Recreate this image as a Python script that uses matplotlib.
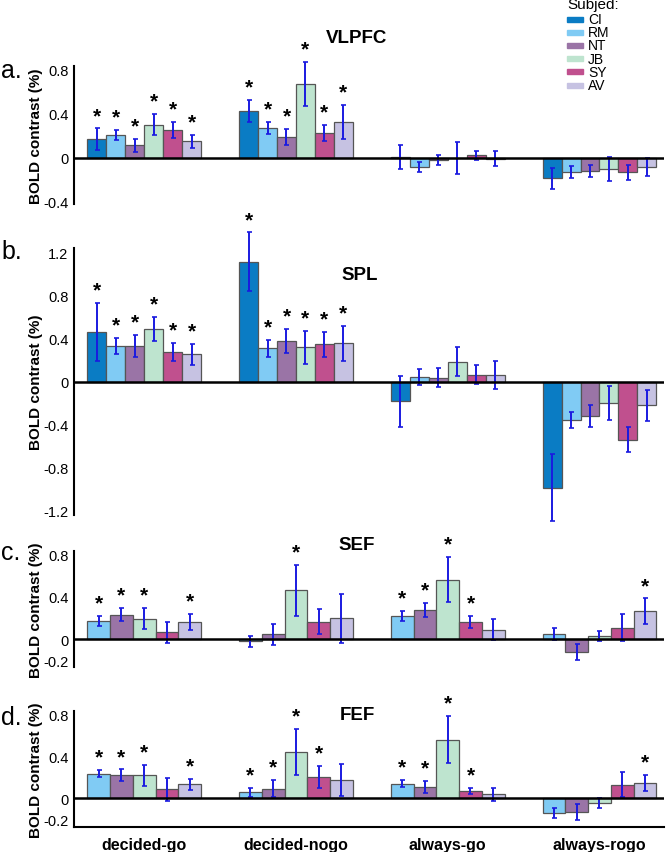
import numpy as np
import matplotlib
matplotlib.use('Agg')
import matplotlib.pyplot as plt
from matplotlib.patches import Rectangle

plt.rcParams['font.family'] = ['Liberation Sans', 'DejaVu Sans']
plt.rcParams['axes.unicode_minus'] = False

conditions = ['decided-go', 'decided-nogo', 'always-go', 'always-rogo']
subjects = ['CI', 'RM', 'NT', 'JB', 'SY', 'AV']
colors = ['#0a7cc4', '#80cbf4', '#9a74a6', '#bee4cf', '#c0508e', '#c6c2e2']

# rows = condition, columns = subject
vlpfc_mean = [[0.165, 0.205, 0.11, 0.30, 0.25, 0.147],
              [0.423, 0.27, 0.187, 0.67, 0.22, 0.32],
              [0.005, -0.085, -0.023, 0.0, 0.02, -0.01],
              [-0.187, -0.134, -0.12, -0.102, -0.134, -0.082]]
vlpfc_err = [[0.10, 0.047, 0.057, 0.095, 0.07, 0.06],
             [0.10, 0.055, 0.07, 0.20, 0.073, 0.155],
             [0.105, 0.047, 0.047, 0.145, 0.038, 0.07],
             [0.095, 0.054, 0.054, 0.11, 0.07, 0.08]]
vlpfc_sig = [[1, 1, 1, 1, 1, 1], [1, 1, 1, 1, 1, 1],
             [0, 0, 0, 0, 0, 0], [0, 0, 0, 0, 0, 0]]

spl_mean = [[0.46, 0.332, 0.332, 0.486, 0.277, 0.252],
            [1.114, 0.308, 0.375, 0.317, 0.345, 0.354],
            [-0.185, 0.043, 0.037, 0.185, 0.065, 0.058],
            [-0.988, -0.354, -0.32, -0.2, -0.542, -0.222]]
spl_err = [[0.27, 0.075, 0.10, 0.11, 0.083, 0.10],
           [0.27, 0.08, 0.11, 0.155, 0.115, 0.163],
           [0.24, 0.074, 0.092, 0.135, 0.09, 0.132],
           [0.31, 0.075, 0.10, 0.16, 0.115, 0.143]]
spl_sig = [[1, 1, 1, 1, 1, 1], [1, 1, 1, 1, 1, 1],
           [0, 0, 0, 0, 0, 0], [0, 0, 0, 0, 0, 0]]

# SEF / FEF: no CI data (RM, NT, JB, SY, AV)
sef_mean = [[0.172, 0.228, 0.19, 0.062, 0.163],
            [-0.022, 0.043, 0.458, 0.163, 0.194],
            [0.218, 0.274, 0.56, 0.163, 0.086],
            [0.049, -0.125, 0.03, 0.108, 0.26]]
sef_err = [[0.046, 0.062, 0.10, 0.10, 0.077],
           [0.05, 0.10, 0.24, 0.117, 0.228],
           [0.05, 0.063, 0.215, 0.057, 0.10],
           [0.057, 0.075, 0.045, 0.13, 0.123]]
sef_sig = [[1, 1, 1, 0, 1], [0, 0, 1, 0, 0], [1, 1, 1, 1, 0], [0, 0, 0, 0, 1]]

fef_mean = [[0.234, 0.218, 0.218, 0.084, 0.13],
            [0.053, 0.09, 0.44, 0.20, 0.171],
            [0.137, 0.109, 0.558, 0.069, 0.037],
            [-0.143, -0.134, -0.044, 0.128, 0.143]]
fef_err = [[0.036, 0.055, 0.10, 0.11, 0.053],
           [0.04, 0.08, 0.223, 0.103, 0.15],
           [0.034, 0.058, 0.223, 0.03, 0.062],
           [0.047, 0.078, 0.048, 0.118, 0.078]]
fef_sig = [[1, 1, 1, 0, 1], [1, 1, 1, 1, 0], [1, 1, 1, 1, 0], [0, 0, 0, 0, 1]]

W, H = 667, 853
fig = plt.figure(figsize=(W / 100, H / 100), dpi=100)


def px_axes(top, bottom):
    # axes box from pixel rows
    return fig.add_axes([74 / W, 1 - bottom / H, 590 / W, (bottom - top) / H])


def draw_panel(ax, means, errs, sig, subj_idx, ylim, yticks):
    means = np.array(means)
    errs = np.array(errs)
    sig = np.array(sig)
    n = len(subj_idx)
    w = 6.0 / n
    centers = np.arange(len(conditions)) * 8
    for k, s in enumerate(subj_idx):
        xs = centers + (k - (n - 1) / 2) * w
        bc = ax.bar(xs, means[:, k], width=w, color=colors[s], edgecolor='#555555',
                    linewidth=0.9, yerr=errs[:, k], zorder=2,
                    error_kw=dict(ecolor='#1a1ae0', elinewidth=1.4, capsize=1.8,
                                  capthick=1.2, zorder=3))
        # error bars run past the axis ends in the original
        for art in bc.errorbar.get_children():
            art.set_clip_on(False)
        for g in range(len(conditions)):
            if sig[g, k]:
                top = means[g, k] + errs[g, k]
                ax.annotate('*', xy=(xs[g], top), xytext=(0, 2.5),
                            textcoords='offset points', ha='center', va='bottom',
                            fontsize=15, fontweight='bold', annotation_clip=False)
    ax.axhline(0, color='black', lw=1.8, zorder=4)
    ax.set_xlim(-3.7, 27.4)
    ax.set_ylim(*ylim)
    ax.set_yticks(yticks)
    ax.set_yticklabels([('%g' % t) for t in yticks])
    ax.tick_params(axis='y', length=0, pad=4, labelsize=10.5)
    ax.tick_params(axis='x', length=0)
    for sp in ['top', 'right', 'bottom']:
        ax.spines[sp].set_visible(False)
    ax.spines['left'].set_linewidth(1.5)
    ax.set_xticks([])
    ax.set_ylabel('BOLD contrast (%)', fontsize=11, fontweight='bold')
    ax.yaxis.set_label_coords(-0.052, 0.5)
    return centers


ax_a = px_axes(67, 205)
draw_panel(ax_a, vlpfc_mean, vlpfc_err, vlpfc_sig, range(6), (-0.42, 0.83),
           [-0.4, 0, 0.4, 0.8])
ax_b = px_axes(249, 516)
draw_panel(ax_b, spl_mean, spl_err, spl_sig, range(6), (-1.24, 1.24),
           [-1.2, -0.8, -0.4, 0, 0.4, 0.8, 1.2])
ax_c = px_axes(552, 668)
draw_panel(ax_c, sef_mean, sef_err, sef_sig, range(1, 6), (-0.264, 0.83),
           [-0.2, 0, 0.4, 0.8])
ax_d = px_axes(712, 828)
centers = draw_panel(ax_d, fef_mean, fef_err, fef_sig, range(1, 6), (-0.276, 0.83),
                     [-0.2, 0, 0.4, 0.8])
ax_d.spines['bottom'].set_visible(True)
ax_d.spines['bottom'].set_linewidth(1.5)
ax_d.set_xticks(centers)
ax_d.set_xticklabels(conditions, fontsize=11.5, fontweight='bold')
ax_d.tick_params(axis='x', length=0, pad=7)

# region titles
for name, (cx, cy) in zip(['VLPFC', 'SPL', 'SEF', 'FEF'],
                          [(357, 38.5), (360, 275), (357, 545), (357, 715.5)]):
    fig.text(cx / W, 1 - cy / H, name, ha='center', va='center',
             fontsize=13.5, fontweight='bold')

# panel letters
for lab, base in zip(['a.', 'b.', 'c.', 'd.'], [78, 259, 560, 725]):
    fig.text(1 / W, 1 - base / H, lab, ha='left', va='baseline', fontsize=18)

# legend
fig.text(567 / W, 1 - 9.5 / H, 'Subjed:', ha='left', va='baseline', fontsize=11)
for i, (s, c) in enumerate(zip(subjects, colors)):
    yc = 20 + 13.2 * i
    fig.add_artist(Rectangle((567 / W, 1 - (yc + 2.5) / H), 16 / W, 5 / H,
                             color=c, transform=fig.transFigure))
    fig.text(588 / W, 1 - yc / H, s, ha='left', va='center', fontsize=10)

fig.savefig('out.png', dpi=100)
